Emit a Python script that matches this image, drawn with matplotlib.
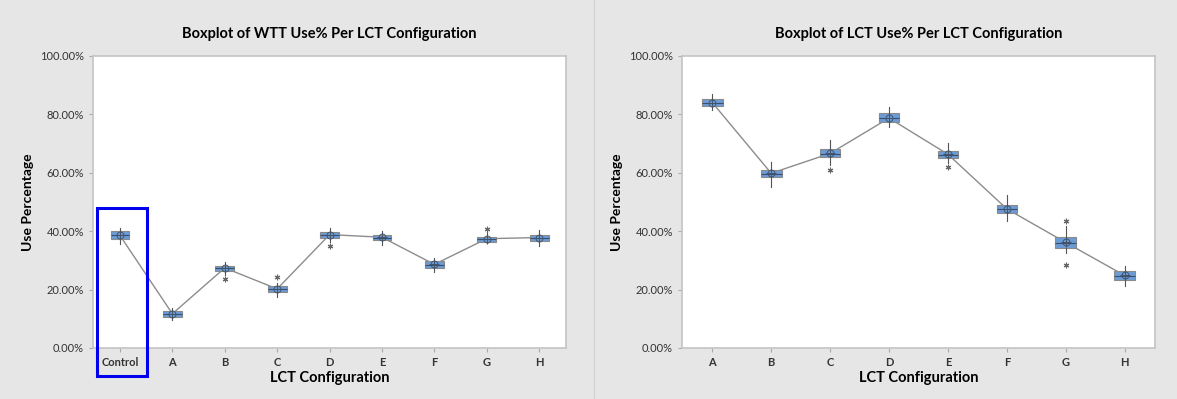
import matplotlib.pyplot as plt
from matplotlib.patches import Rectangle
from matplotlib.ticker import PercentFormatter

plt.rcParams['font.family'] = ['Lato', 'DejaVu Sans']

# WTT use% per LCT configuration (left)
wtt_labels = ['Control', 'A', 'B', 'C', 'D', 'E', 'F', 'G', 'H']
wtt_q1 = [37.2, 10.6, 26.3, 19.0, 37.6, 36.8, 27.2, 36.4, 36.6]
wtt_med = [38.5, 11.6, 27.3, 20.1, 38.7, 37.8, 28.5, 37.3, 37.7]
wtt_q3 = [40.0, 12.5, 28.2, 21.1, 39.6, 38.8, 29.7, 38.1, 38.8]
wtt_lo = [35.7, 9.5, 25.1, 17.5, 36.2, 35.3, 26.1, 35.9, 34.8]
wtt_hi = [41.2, 13.8, 29.4, 22.3, 41.0, 40.1, 30.7, 39.6, 40.4]
wtt_mean = [38.5, 11.7, 27.4, 20.2, 38.8, 37.9, 28.6, 37.4, 37.8]
wtt_out = [[], [], [23.6], [24.4], [34.9], [], [], [40.8], []]

# LCT use% per LCT configuration (right)
lct_labels = ['A', 'B', 'C', 'D', 'E', 'F', 'G', 'H']
lct_q1 = [82.8, 58.5, 65.2, 77.2, 65.1, 46.2, 34.2, 23.2]
lct_med = [84.0, 59.7, 66.5, 78.8, 66.2, 47.7, 36.0, 24.7]
lct_q3 = [85.1, 60.8, 68.0, 80.3, 67.4, 49.1, 37.9, 26.2]
lct_lo = [81.6, 55.1, 62.5, 75.7, 63.3, 43.4, 32.4, 21.3]
lct_hi = [86.9, 63.7, 71.1, 82.4, 70.2, 52.2, 41.6, 27.9]
lct_mean = [84.0, 59.8, 66.6, 78.7, 66.3, 47.6, 36.1, 24.8]
lct_out = [[], [], [60.8], [], [61.9], [], [43.6, 28.4], []]

bg = '#e6e6e6'
box_col = '#6b9bd6'


def draw(ax, labels, q1, med, q3, lo, hi, mean, out, title, bw):
    stats = []
    for i in range(len(labels)):
        stats.append(dict(q1=q1[i], med=med[i], q3=q3[i], whislo=lo[i],
                          whishi=hi[i], mean=mean[i], fliers=out[i]))
    pos = list(range(1, len(labels) + 1))
    ax.bxp(stats, positions=pos, widths=bw, patch_artist=True, showcaps=False,
           showmeans=False,
           boxprops=dict(facecolor=box_col, edgecolor='#8a8a8a', linewidth=0.8),
           medianprops=dict(color='#3a4f6e', linewidth=0.8),
           whiskerprops=dict(color='#555555', linewidth=0.8),
           flierprops=dict(marker=(6, 2, 0), markeredgecolor='#666666',
                           markersize=4, markeredgewidth=0.8, linestyle='none'),
           zorder=3)
    ax.plot(pos, mean, color='#8c8c8c', linewidth=1.0, zorder=2)
    ax.plot(pos, mean, 'o', mfc='none', mec='#44546a', markersize=5, mew=0.7, zorder=4)
    ax.plot(pos, mean, '+', color='#44546a', markersize=7, mew=0.7, zorder=4)
    ax.set_ylim(0, 100)
    ax.set_xlim(0.485, len(labels) + 0.515)
    ax.set_yticks([0, 20, 40, 60, 80, 100])
    ax.yaxis.set_major_formatter(PercentFormatter(decimals=2))
    ax.set_xticks(pos)
    ax.set_xticklabels(labels, fontweight='bold')
    ax.tick_params(labelsize=8, length=3, color='#aaaaaa', colors='#333333')
    ax.set_xlabel('LCT Configuration', fontsize=10.5, fontweight='bold', labelpad=2)
    ax.set_ylabel('Use Percentage', fontsize=10, fontweight='bold', labelpad=4)
    ax.set_title(title, fontsize=10.5, fontweight='bold', pad=13)
    for s in ax.spines.values():
        s.set_color('#c4c4c4')
        s.set_linewidth(1.2)


fig = plt.figure(figsize=(11.77, 3.99), dpi=100, facecolor=bg)
ax1 = fig.add_axes([0.079, 0.128, 0.402, 0.732])
ax2 = fig.add_axes([0.5794, 0.128, 0.4019, 0.732])

draw(ax1, wtt_labels, wtt_q1, wtt_med, wtt_q3, wtt_lo, wtt_hi, wtt_mean, wtt_out,
     'Boxplot of WTT Use% Per LCT Configuration', 0.36)
draw(ax2, lct_labels, lct_q1, lct_med, lct_q3, lct_lo, lct_hi, lct_mean, lct_out,
     'Boxplot of LCT Use% Per LCT Configuration', 0.35)

# panel separator and highlight box
fig.add_artist(plt.Line2D([594 / 1177, 594 / 1177], [0, 1], color='#d2d2d2', linewidth=0.8))
fig.add_artist(Rectangle((97 / 1177, 1 - 376 / 399), 50 / 1177, 168 / 399,
                         fill=False, edgecolor='#0000ee', linewidth=2.2))

fig.savefig('out.png', dpi=100, facecolor=bg)
